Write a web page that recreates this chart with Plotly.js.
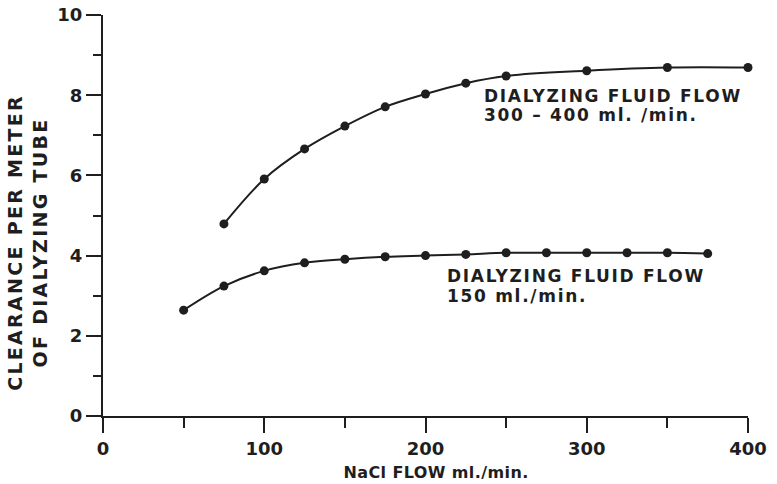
<!DOCTYPE html>
<html><head><meta charset="utf-8">
<script src="https://cdn.plot.ly/plotly-3.0.1.min.js"></script>
<style>html,body{margin:0;padding:0;background:#fff;}#chart{width:777px;height:484px;}</style>
</head><body><div id="chart"></div>
<script>
const upperX = [75, 100, 125, 150, 175, 200, 225, 250, 300, 350, 400];
const upperY = [4.79, 5.91, 6.66, 7.23, 7.71, 8.03, 8.30, 8.48, 8.61, 8.69, 8.69];
const lowerX = [50, 75, 100, 125, 150, 175, 200, 225, 250, 275, 300, 325, 350, 375];
const lowerY = [2.64, 3.24, 3.62, 3.82, 3.91, 3.97, 4.00, 4.03, 4.07, 4.07, 4.07, 4.07, 4.07, 4.05];
const xTicks = [0, 100, 200, 300, 400];
const yTicks = [0, 2, 4, 6, 8, 10];
const upperLabel = ["DIALYZING FLUID FLOW", "300 – 400 ml. /min."];
const lowerLabel = ["DIALYZING FLUID FLOW", "150 ml./min."];
const xTitle = "NaCl FLOW ml./min.";
const yTitle = "CLEARANCE PER METER<br>OF DIALYZING TUBE";

const ink = '#1e1e1e';
const fam = 'DejaVu Sans, sans-serif';
const mk = {color: ink, size: 9};
const traces = [
  {x: upperX, y: upperY, mode: 'lines+markers', line: {color: ink, width: 2, shape: 'spline', smoothing: 1}, marker: mk, cliponaxis: false, hoverinfo: 'none'},
  {x: lowerX, y: lowerY, mode: 'lines+markers', line: {color: ink, width: 2, shape: 'spline', smoothing: 1}, marker: mk, cliponaxis: false, hoverinfo: 'none'}
];
function lab(x, y, text, size) {
  return {x: x, y: y, xref: 'x', yref: 'y', text: text, showarrow: false, xanchor: 'left', yanchor: 'middle', align: 'left',
          borderpad: 0, font: {size: size, family: fam, color: ink, weight: 'bold'}};
}
const annotations = [
  lab(235.7, 7.98, upperLabel[0], 17),
  lab(235.7, 7.50, upperLabel[1], 17),
  lab(212.7, 3.48, lowerLabel[0], 17),
  lab(212.7, 3.00, lowerLabel[1], 17),
  {x: (436 - 103) / 645, y: -0.14, xref: 'paper', yref: 'paper', text: xTitle, showarrow: false, xanchor: 'center', yanchor: 'middle',
   font: {size: 16, family: fam, color: ink, weight: 'bold'}},
  {x: (27 - 103) / 645, y: (416 - 243) / 401, xref: 'paper', yref: 'paper', text: yTitle, showarrow: false, xanchor: 'center', yanchor: 'middle',
   textangle: -90, font: {size: 19, family: fam, color: ink, weight: 'bold'}}
];
const spacing = ['1.7px', '1.7px', '1.7px', '1.7px', '0.4px', '2.3px'];
const layout = {
  width: 777, height: 484,
  margin: {l: 103, r: 29, t: 15, b: 68},
  paper_bgcolor: '#fff', plot_bgcolor: '#fff',
  showlegend: false,
  font: {family: fam, color: ink},
  xaxis: {
    range: [0, 400], tickvals: xTicks, ticktext: xTicks.map(String),
    showgrid: false, zeroline: false, showline: true, linecolor: ink, linewidth: 2,
    ticks: 'outside', ticklen: 15, tickwidth: 2, tickcolor: ink,
    minor: {dtick: 50, tick0: 0, ticks: 'outside', ticklen: 10, tickwidth: 2, tickcolor: ink, showgrid: false},
    tickfont: {size: 18, family: fam, color: ink, weight: 'bold'}
  },
  yaxis: {
    range: [0, 10], tickvals: yTicks, ticktext: yTicks.map(String),
    showgrid: false, zeroline: false, showline: true, linecolor: ink, linewidth: 2,
    ticks: 'outside', ticklen: 15, tickwidth: 2, tickcolor: ink,
    minor: {dtick: 1, tick0: 0, ticks: 'outside', ticklen: 8, tickwidth: 2, tickcolor: ink, showgrid: false},
    tickfont: {size: 18, family: fam, color: ink, weight: 'bold'}
  },
  annotations: annotations
};
Plotly.newPlot('chart', traces, layout, {displayModeBar: false, staticPlot: true}).then(function () {
  document.querySelectorAll('#chart g.annotation').forEach(function (g) {
    const i = +g.getAttribute('data-index');
    const t = g.querySelector('text');
    if (t && spacing[i]) t.style.letterSpacing = spacing[i];
  });
});
</script>
</body></html>
